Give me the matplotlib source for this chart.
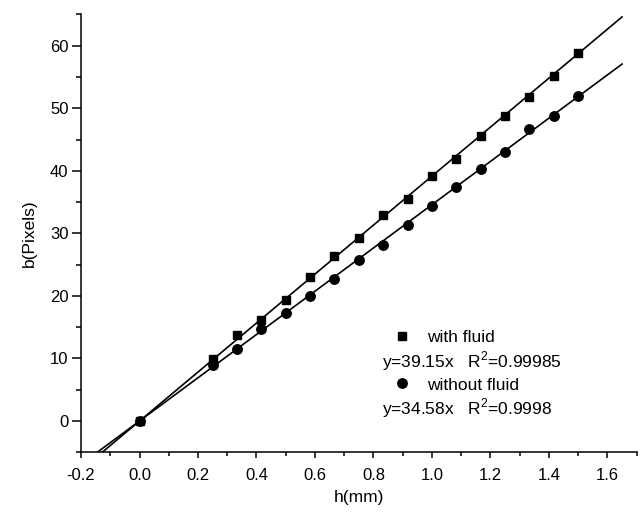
import matplotlib
matplotlib.use("Agg")
import matplotlib.pyplot as plt
import numpy as np

plt.rcParams['font.family'] = ['Liberation Sans', 'DejaVu Sans']
plt.rcParams['mathtext.fontset'] = 'custom'
plt.rcParams['mathtext.rm'] = 'Liberation Sans'

# heights in mm, sampled every 1/12 mm after the origin
h = np.array([0, 3, 4, 5, 6, 7, 8, 9, 10, 11, 12, 13, 14, 15, 16, 17, 18]) / 12.0

b_fluid = np.array([0, 9.85, 13.83, 16.07, 19.42, 22.98, 26.33, 29.26, 32.87,
                    35.54, 39.09, 41.87, 45.54, 48.83, 51.76, 55.21, 58.88])
b_nofluid = np.array([0, 8.89, 11.44, 14.63, 17.19, 19.95, 22.77, 25.69, 28.08,
                      31.39, 34.42, 37.40, 40.32, 42.99, 46.67, 48.83, 52.02])

# linear fits through the origin
slope_fluid = 39.15
slope_nofluid = 34.58
r2_fluid = "0.99985"
r2_nofluid = "0.9998"
fit_range = np.array([-0.2, 1.65])

fig = plt.figure(figsize=(6.4, 5.12), dpi=100)
ax = fig.add_axes([0.1266, 0.1166, 0.8682, 0.8553])

ax.plot(fit_range, slope_fluid * fit_range, color='black', lw=1.2)
ax.plot(fit_range, slope_nofluid * fit_range, color='black', lw=1.2)
sq, = ax.plot(h, b_fluid, 's', color='black', ms=6.2, ls='none', label='with fluid')
ci, = ax.plot(h, b_nofluid, 'o', color='black', ms=6.8, ls='none', label='without fluid')

ax.set_xlim(-0.2, 1.7)
ax.set_ylim(-5, 65)
ax.set_xticks(np.arange(-0.2, 1.61, 0.2))
ax.set_xticks(np.arange(-0.1, 1.71, 0.2), minor=True)
ax.set_yticks(np.arange(0, 61, 10))
ax.set_yticks(np.arange(-5, 66, 10), minor=True)
ax.set_xticklabels([f"{v:.1f}" for v in np.arange(-0.2, 1.61, 0.2)])

for side in ['top', 'right']:
    ax.spines[side].set_visible(False)
for side in ['left', 'bottom']:
    ax.spines[side].set_linewidth(1.1)

ax.tick_params(axis='x', which='major', length=4.5, width=1.1, pad=7, labelsize=12)
ax.tick_params(axis='x', which='minor', length=2.6, width=1.1)
ax.tick_params(axis='y', which='major', length=6.5, width=1.1, pad=2.5, labelsize=12)
ax.tick_params(axis='y', which='minor', length=3.8, width=1.1)

ax.set_xlabel('h(mm)', fontsize=12.5, labelpad=5)
ax.set_ylabel('b(Pixels)', fontsize=12.5, labelpad=9)

ax.legend(handles=[sq, ci], loc='upper left', bbox_to_anchor=(0.562, 0.279),
          frameon=False, fontsize=12.5, borderpad=0, borderaxespad=0,
          handlelength=1.0, handletextpad=0.95, labelspacing=1.85)

ax.text(0.541, 0.207, f"y={slope_fluid:.2f}x   R$^2$={r2_fluid}",
        transform=ax.transAxes, fontsize=12.5, va='center', ha='left')
ax.text(0.541, 0.1005, f"y={slope_nofluid:.2f}x   R$^2$={r2_nofluid}",
        transform=ax.transAxes, fontsize=12.5, va='center', ha='left')

fig.savefig('out.png', dpi=100)
